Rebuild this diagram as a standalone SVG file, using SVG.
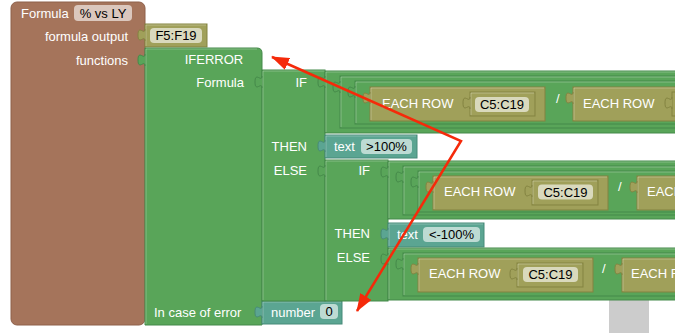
<svg xmlns="http://www.w3.org/2000/svg" width="683" height="333" viewBox="0 0 683 333">
<style>
.lbl{font-family:"Liberation Sans",Arial,sans-serif;font-size:13px;fill:#fff}
.end{text-anchor:end}
.mid{text-anchor:middle}
.fv{font-family:"Liberation Sans",Arial,sans-serif;font-size:13px;fill:#000;text-anchor:middle}
.fld{fill:#fff;fill-opacity:0.6}
.brown{fill:#a5745b;stroke:#8e604a;stroke-width:1}
.grn{fill:#59a559;stroke:#45894a;stroke-width:1}
.olv{fill:#a0a05a;stroke:#838341;stroke-width:1}
.teal{fill:#5ba592;stroke:#478a78;stroke-width:1}
.hl{fill:none;stroke:#fff;stroke-opacity:0.28;stroke-width:1}
.arrow{stroke:#f52a0a;stroke-width:2.5;fill:none;stroke-linejoin:miter}
</style>
<defs>
<path id="tab" d="M0,0 c0,7 -7,-5 -7,6 s7,-1 7,6"/>
<clipPath id="clip"><rect x="0" y="0" width="675" height="333"/></clipPath>
<marker id="ah" viewBox="0 0 18 13" refX="17" refY="6.5" markerWidth="18" markerHeight="13" markerUnits="userSpaceOnUse" orient="auto-start-reverse">
<path d="M0,0 L18,6.5 L0,13 z" fill="#f52a0a"/>
</marker>
</defs>
<rect x="0" y="0" width="683" height="333" fill="#fff"/>
<rect x="609" y="300" width="40" height="33" fill="#cccccc"/>
<g clip-path="url(#clip)">
<g id="formula">
<rect class="brown" x="11" y="2" width="134" height="323" rx="6"/>
<text class="lbl" x="21" y="18">Formula</text>
<rect class="fld" x="74" y="5" width="58" height="16" rx="4"/>
<text class="fv" x="103" y="17.6">% vs LY</text>
<text class="lbl end" x="128" y="40.5">formula output</text>
<text class="lbl end" x="128" y="64.5">functions</text>
</g>
<g id="output-range">
<rect class="olv" x="145" y="24" width="62" height="23"/>
<path class="hl" d="M146,46 V25 H206"/>
<use href="#tab" x="145" y="29" class="olv"/>
<rect class="fld" x="150" y="28" width="52" height="15" rx="4"/>
<text class="fv" x="176" y="40">F5:F19</text>
</g>
<g id="iferror">
<path class="grn" d="M145,48 H257 Q262,48 262,53 V325 H145 Z"/>
<path class="hl" d="M146,324 V49 H257"/>
<use href="#tab" x="145" y="54" class="grn"/>
<text class="lbl mid" x="214" y="63.5">IFERROR</text>
<text class="lbl end" x="244" y="86.5">Formula</text>
<text class="lbl" x="154" y="316.5">In case of error</text>
</g>
<g id="number">
<rect class="teal" x="262" y="301" width="80" height="23"/>
<path class="hl" d="M263,323 V302 H341"/>
<use href="#tab" x="262" y="306" class="teal"/>
<text class="lbl" x="271" y="316.5">number</text>
<rect class="fld" x="320" y="304" width="18" height="15" rx="4"/>
<text class="fv" x="329" y="316">0</text>
</g>
<g id="if-outer">
<rect class="grn" x="262" y="70" width="63" height="231"/>
<path class="hl" d="M263,300 V71 H325"/>
<use href="#tab" x="262" y="76" class="grn"/>
<text class="lbl end" x="307" y="86.5">IF</text>
<text class="lbl end" x="307" y="151">THEN</text>
<text class="lbl end" x="307" y="175">ELSE</text>
</g>
<g id="cond1">
<rect class="grn" x="325" y="71" width="360" height="62"/>
<path class="hl" d="M326,132 V72 H680"/>
<use href="#tab" x="325" y="76" class="grn"/>
<rect class="grn" x="340" y="76" width="345" height="52"/>
<path class="hl" d="M341,127 V77 H680"/>
<use href="#tab" x="340" y="81" class="grn"/>
<rect class="grn" x="355" y="81" width="330" height="43"/>
<path class="hl" d="M356,123 V82 H680"/>
<use href="#tab" x="355" y="86" class="grn"/>
</g>
<g id="eachrow1a">
<rect class="olv" x="370" y="87" width="175" height="34"/>
<path class="hl" d="M371,120 V88 H544"/>
<use href="#tab" x="370" y="92" class="olv"/>
<text class="lbl" x="382" y="107.5">EACH ROW</text>
<rect class="olv" x="470" y="92" width="65" height="24"/>
<path class="hl" d="M471,115 V93 H534"/>
<use href="#tab" x="470" y="97" class="olv"/>
<rect class="fld" x="475" y="97" width="54" height="15" rx="4"/>
<text class="fv" x="502" y="109">C5:C19</text>
</g>
<text class="lbl" x="556" y="103">/</text>
<g id="eachrow1b">
<rect class="olv" x="573" y="87" width="112" height="34"/>
<path class="hl" d="M574,120 V88 H680"/>
<use href="#tab" x="573" y="92" class="olv"/>
<text class="lbl" x="583" y="107.5">EACH ROW</text>
<rect class="olv" x="672" y="92" width="20" height="24"/>
<use href="#tab" x="672" y="97" class="olv"/>
</g>
<g id="text-gt100">
<rect class="teal" x="325" y="135" width="92" height="23"/>
<path class="hl" d="M326,157 V136 H416"/>
<use href="#tab" x="325" y="140" class="teal"/>
<text class="lbl" x="334" y="151">text</text>
<rect class="fld" x="361" y="139" width="51" height="15" rx="4"/>
<text class="fv" x="386.5" y="151">&gt;100%</text>
</g>
<g id="if-inner">
<rect class="grn" x="325" y="160" width="63" height="141"/>
<path class="hl" d="M326,300 V161 H388"/>
<use href="#tab" x="325" y="165" class="grn"/>
<text class="lbl end" x="370" y="174.5">IF</text>
<text class="lbl end" x="370" y="238">THEN</text>
<text class="lbl end" x="370" y="262">ELSE</text>
</g>
<g id="cond2">
<rect class="grn" x="388" y="161" width="297" height="58"/>
<path class="hl" d="M389,218 V162 H680"/>
<use href="#tab" x="388" y="166" class="grn"/>
<rect class="grn" x="403" y="166" width="282" height="49"/>
<path class="hl" d="M404,214 V167 H680"/>
<use href="#tab" x="403" y="171" class="grn"/>
<rect class="grn" x="418" y="171" width="267" height="41"/>
<path class="hl" d="M419,211 V172 H680"/>
<use href="#tab" x="418" y="176" class="grn"/>
</g>
<g id="eachrow2a">
<rect class="olv" x="433" y="176" width="175" height="34"/>
<path class="hl" d="M434,209 V177 H607"/>
<use href="#tab" x="433" y="181" class="olv"/>
<text class="lbl" x="444" y="196">EACH ROW</text>
<rect class="olv" x="532" y="180" width="66" height="25"/>
<path class="hl" d="M533,204 V181 H597"/>
<use href="#tab" x="532" y="185" class="olv"/>
<rect class="fld" x="538" y="184.5" width="55" height="15" rx="4"/>
<text class="fv" x="565.5" y="196.5">C5:C19</text>
</g>
<text class="lbl" x="618" y="191">/</text>
<g id="eachrow2b">
<rect class="olv" x="637" y="176" width="60" height="34"/>
<path class="hl" d="M638,209 V177 H680"/>
<use href="#tab" x="637" y="181" class="olv"/>
<text class="lbl" x="647" y="196">EACH ROW</text>
</g>
<g id="text-lt100">
<rect class="teal" x="388" y="223" width="96" height="24"/>
<path class="hl" d="M389,246 V224 H483"/>
<use href="#tab" x="388" y="228" class="teal"/>
<text class="lbl" x="397" y="239">text</text>
<rect class="fld" x="423" y="227" width="57" height="15" rx="4"/>
<text class="fv" x="451.5" y="239">&lt;-100%</text>
</g>
<g id="cond3">
<rect class="grn" x="388" y="248" width="297" height="52"/>
<path class="hl" d="M389,299 V249 H680"/>
<use href="#tab" x="388" y="253" class="grn"/>
<rect class="grn" x="403" y="253" width="282" height="43"/>
<path class="hl" d="M404,295 V254 H680"/>
<use href="#tab" x="403" y="258" class="grn"/>
</g>
<g id="eachrow3a">
<rect class="olv" x="418" y="258" width="175" height="34"/>
<path class="hl" d="M419,291 V259 H592"/>
<use href="#tab" x="418" y="263" class="olv"/>
<text class="lbl" x="429" y="278">EACH ROW</text>
<rect class="olv" x="517" y="263" width="66" height="24"/>
<path class="hl" d="M518,286 V264 H582"/>
<use href="#tab" x="517" y="268" class="olv"/>
<rect class="fld" x="523" y="267" width="55" height="15" rx="4"/>
<text class="fv" x="550.5" y="279">C5:C19</text>
</g>
<text class="lbl" x="602" y="273">/</text>
<g id="eachrow3b">
<rect class="olv" x="622" y="258" width="63" height="34"/>
<path class="hl" d="M623,291 V259 H680"/>
<use href="#tab" x="622" y="263" class="olv"/>
<text class="lbl" x="631" y="278">EACH ROW</text>
</g>
</g>
<g id="connectors">
<path class="arrow" d="M272,57 L461,141 L357,311" marker-start="url(#ah)" marker-end="url(#ah)"/>
</g>
</svg>
